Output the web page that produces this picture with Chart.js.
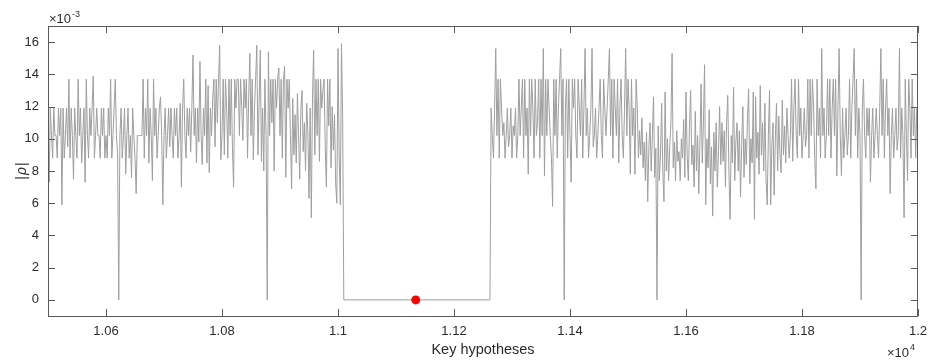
<!DOCTYPE html>
<html lang="en">
<head>
  <meta charset="UTF-8">
  <title>|rho| over key hypotheses</title>
  <script src="https://cdn.jsdelivr.net/npm/chart.js"></script>
  <style>
    html, body { margin: 0; padding: 0; background: #fff; }
    #wrap { width: 928px; height: 361px; }
  </style>
</head>
<body>
  <div id="wrap">
    <canvas id="rhoChart" width="928" height="361"></canvas>
  </div>

  <script>
    // |rho| values in units of 1e-3, one value every KEY_STEP keys starting at the segment key
    const KEY_STEP = 2;

    const rho10500 = [11.9, 7.3, 11.9, 10.2, 8.8, 11.9, 10.2, 10.2, 8.8, 11.9,
                      10.2, 11.9, 5.9, 11.9, 8.8, 10.2, 11.9, 9.5, 13.7, 8.8,
                      11.9, 10.2, 7.5, 11.9, 10.2, 8.8, 13.7, 10.2, 11.9, 8.5,
                      10.2, 11.9, 7.3, 13.7, 10.2, 8.8, 11.9, 10.2, 11.9, 13.9,
                      8.8, 10.2, 11.9, 10.2, 10.2, 8.8, 11.9, 10.2, 11.9, 8.8];

    const rho10600 = [10.2, 8.8, 11.9, 10.2, 13.7, 8.8, 10.2, 11.9, 13.7, 10.2,
                      9.0, 0, 10.2, 11.9, 8.8, 10.2, 11.9, 7.8, 10.2, 11.9,
                      8.8, 10.2, 7.6, 11.9, 10.2, 8.8, 6.6, 10.2, 10.2, 10.2,
                      10.2, 10.2, 13.7, 8.8, 11.9, 10.2, 13.7, 8.5, 11.9, 10.2,
                      7.4, 13.7, 10.2, 11.9, 8.8, 10.2, 11.9, 12.6, 10.2, 5.9];

    const rho10700 = [10.2, 11.9, 8.8, 10.2, 11.9, 9.5, 11.9, 10.2, 8.8, 11.9,
                      10.2, 11.9, 8.8, 10.2, 12.2, 7.0, 11.9, 13.7, 10.2, 8.8,
                      11.9, 10.2, 11.9, 9.2, 11.9, 15.2, 10.2, 11.9, 8.5, 11.9,
                      9.8, 14.8, 10.2, 8.4, 11.9, 10.2, 13.7, 8.5, 13.3, 7.9,
                      11.9, 10.2, 12.5, 13.7, 9.5, 13.7, 11.0, 13.7, 15.8, 8.7];

    const rho10800 = [10.2, 13.7, 9.0, 13.7, 11.9, 8.8, 13.7, 10.2, 13.7, 9.4,
                      7.0, 13.7, 11.9, 13.7, 13.7, 10.2, 13.7, 12.0, 9.9, 13.7,
                      11.9, 13.7, 8.8, 12.5, 15.3, 10.2, 13.7, 8.7, 11.9, 13.7,
                      15.8, 9.0, 12.2, 15.5, 8.6, 11.9, 8.0, 13.7, 10.2, 0,
                      15.4, 10.2, 13.7, 11.0, 13.7, 8.0, 13.7, 11.9, 13.7, 14.4];

    const rho10900 = [10.2, 13.7, 8.8, 13.7, 14.5, 7.6, 13.7, 11.9, 13.7, 10.2,
                      6.9, 12.5, 9.0, 11.5, 8.5, 12.8, 10.2, 7.5, 11.9, 13.0,
                      9.2, 11.0, 8.0, 12.2, 10.5, 6.3, 11.9, 5.1, 12.5, 15.5,
                      9.0, 13.7, 10.2, 13.7, 8.6, 13.7, 11.9, 13.0, 13.7, 9.5,
                      7.0, 13.7, 10.8, 13.7, 8.2, 12.0, 9.3, 11.5, 7.2, 6.0,
                      15.6, 9.0, 5.9, 15.9, 11.5];

    // flat stretch at zero between the two blocks
    const gapKeys = [11010, 11262];
    const gapRho = [0, 0];

    const rho11264 = [11.9, 10.2, 8.8, 11.9, 15.6, 10.2, 13.7, 8.8, 13.7, 11.9,
                      10.2, 11.0, 8.8, 10.2, 11.9, 9.5, 10.2, 11.9, 8.8, 10.8,
                      10.2, 11.9, 8.8, 10.2, 13.7, 10.2, 11.9, 13.7, 8.8, 13.7,
                      10.2, 11.9, 7.8, 13.7, 10.2, 13.7, 11.9, 8.8, 13.7, 10.2,
                      11.0, 13.7, 8.8, 13.7, 10.2, 15.6, 7.7, 13.7, 10.2, 13.7];

    const rho11364 = [11.9, 10.2, 8.8, 5.8, 13.7, 10.2, 13.7, 8.8, 11.9, 13.7,
                      15.6, 10.2, 13.7, 0, 11.9, 13.7, 8.8, 13.7, 10.2, 7.3,
                      13.7, 11.9, 13.7, 10.2, 8.8, 13.7, 11.9, 10.2, 13.7, 8.8,
                      11.9, 15.6, 10.2, 11.9, 8.8, 10.2, 11.9, 15.6, 9.5, 10.2,
                      11.9, 8.8, 10.2, 11.9, 13.7, 10.2, 8.8, 13.7, 11.9, 10.2];

    const rho11464 = [11.9, 13.7, 15.6, 10.2, 13.7, 8.8, 13.7, 11.9, 10.2, 13.7,
                      8.5, 11.9, 13.7, 10.2, 8.8, 11.9, 15.6, 10.2, 13.7, 11.9,
                      7.8, 13.7, 10.2, 11.9, 7.8, 13.7, 11.9, 8.8, 10.5, 9.0,
                      11.3, 8.2, 9.8, 7.4, 10.4, 6.1, 9.5, 11.0, 8.0, 10.2,
                      12.6, 7.6, 9.4, 0, 10.8, 7.4, 9.0, 12.2, 8.0, 6.1];

    const rho11564 = [12.9, 8.0, 10.0, 7.4, 9.5, 11.0, 15.3, 8.2, 9.8, 7.4,
                      10.5, 8.6, 9.2, 7.4, 10.0, 8.8, 11.2, 7.6, 12.9, 9.0,
                      7.4, 10.8, 13.0, 8.4, 9.6, 7.0, 11.7, 8.0, 10.2, 6.6,
                      9.8, 13.4, 8.5, 11.0, 14.6, 5.9, 10.0, 8.2, 11.8, 7.2,
                      9.5, 5.2, 10.4, 8.0, 11.0, 7.0, 9.2, 12.0, 8.4, 11.0];

    const rho11664 = [8.6, 10.5, 7.0, 11.0, 12.7, 8.0, 5.0, 10.2, 8.5, 13.2,
                      7.4, 9.8, 11.0, 8.0, 10.5, 6.4, 9.6, 12.0, 7.6, 10.0,
                      8.4, 11.2, 13.1, 7.2, 10.0, 8.5, 12.9, 5.0, 12.6, 8.8,
                      10.4, 7.8, 13.3, 9.0, 11.0, 8.0, 12.2, 7.5, 5.9, 10.2,
                      13.0, 5.9, 9.5, 11.0, 6.5, 10.0, 12.2, 8.0, 11.4, 9.0];

    const rho11764 = [7.9, 12.4, 9.0, 10.8, 8.5, 11.9, 10.2, 8.8, 10.2, 13.7,
                      8.6, 11.9, 13.7, 10.2, 8.8, 13.7, 10.2, 11.9, 8.8, 10.2,
                      11.9, 9.5, 10.2, 13.7, 8.8, 13.7, 10.2, 13.7, 11.9, 8.8,
                      6.9, 13.7, 10.2, 11.9, 8.8, 15.6, 10.2, 11.9, 8.8, 10.2,
                      13.7, 10.2, 13.7, 8.8, 11.9, 13.7, 10.2, 13.7, 7.7, 11.9];

    const rho11864 = [15.6, 10.2, 7.7, 11.9, 8.8, 10.2, 11.9, 9.0, 10.2, 13.7,
                      8.8, 11.9, 13.7, 15.6, 10.2, 13.7, 8.8, 11.9, 10.2, 0,
                      11.9, 13.7, 10.2, 8.8, 11.9, 10.2, 11.9, 7.3, 10.2, 11.9,
                      8.8, 10.2, 11.9, 10.2, 8.8, 11.9, 15.6, 10.2, 13.7, 8.8,
                      11.9, 13.7, 10.2, 11.9, 6.6, 10.2, 11.9, 8.8, 10.2, 11.9,
                      9.3, 10.2, 15.6, 8.8, 11.9, 10.2, 5.1, 13.7, 10.2, 7.4,
                      13.7, 11.9, 8.8, 13.7, 10.2, 11.9, 8.8, 11.9, 10.0];

    // the marked (correct) key
    const bestKey = [11134];
    const bestRho = [0];

    // axis ticks
    const xTickKeys = [10600, 10800, 11000, 11200, 11400, 11600, 11800, 12000];
    const xTickLabels = ['1.06', '1.08', '1.1', '1.12', '1.14', '1.16', '1.18', '1.2'];
    const yTicks = [0, 2, 4, 6, 8, 10, 12, 14, 16];

    // build {x, y} points from the segments
    function segmentPoints(startKey, values) {
      return values.map((v, i) => ({ x: startKey + i * KEY_STEP, y: v }));
    }

    const points = [].concat(
      segmentPoints(10500, rho10500),
      segmentPoints(10600, rho10600),
      segmentPoints(10700, rho10700),
      segmentPoints(10800, rho10800),
      segmentPoints(10900, rho10900),
      gapKeys.map((k, i) => ({ x: k, y: gapRho[i] })),
      segmentPoints(11264, rho11264),
      segmentPoints(11364, rho11364),
      segmentPoints(11464, rho11464),
      segmentPoints(11564, rho11564),
      segmentPoints(11664, rho11664),
      segmentPoints(11764, rho11764),
      segmentPoints(11864, rho11864)
    );

    const FONT = '"Liberation Sans", Arial, Helvetica, sans-serif';
    const AXIS_COLOR = '#5a5a5a';
    const TEXT_COLOR = '#2b2b2b';

    // MATLAB style box, inward ticks, exponent labels and y label
    const axesBox = {
      id: 'axesBox',
      afterDraw(chart) {
        const { ctx, chartArea: a, scales } = chart;
        const x = scales.x, y = scales.y;
        const tl = 7;
        ctx.save();
        ctx.strokeStyle = AXIS_COLOR;
        ctx.lineWidth = 1;
        ctx.strokeRect(a.left + 0.5, a.top + 0.5, a.right - a.left - 1, a.bottom - a.top);

        ctx.beginPath();
        xTickKeys.forEach(k => {
          const px = Math.round(x.getPixelForValue(k)) + 0.5;
          ctx.moveTo(px, a.bottom); ctx.lineTo(px, a.bottom - tl);
          ctx.moveTo(px, a.top); ctx.lineTo(px, a.top + tl);
        });
        yTicks.forEach(v => {
          const py = Math.round(y.getPixelForValue(v)) + 0.5;
          ctx.moveTo(a.left, py); ctx.lineTo(a.left + tl, py);
          ctx.moveTo(a.right, py); ctx.lineTo(a.right - tl, py);
        });
        ctx.stroke();

        ctx.fillStyle = TEXT_COLOR;
        ctx.textBaseline = 'alphabetic';
        ctx.textAlign = 'left';

        // x10^-3 above the y axis
        ctx.font = '13px ' + FONT;
        ctx.fillText('\u00d710', a.left + 1, a.top - 3);
        let w = ctx.measureText('\u00d710').width;
        ctx.font = '9px ' + FONT;
        ctx.fillText('-3', a.left + 1 + w + 1, a.top - 9);

        // x10^4 below the x axis end
        ctx.font = '13px ' + FONT;
        ctx.fillText('\u00d710', a.right - 31, 357);
        w = ctx.measureText('\u00d710').width;
        ctx.font = '9px ' + FONT;
        ctx.fillText('4', a.right - 31 + w + 1, 350);

        // |rho| label, rotated
        ctx.translate(21, (a.top + a.bottom) / 2);
        ctx.rotate(-Math.PI / 2);
        ctx.font = '14px ' + FONT;
        const bar = ctx.measureText('|').width;
        ctx.font = 'italic 14px ' + FONT;
        const rw = ctx.measureText('\u03c1').width;
        const total = bar * 2 + rw + 2;
        let cx = -total / 2;
        ctx.font = '14px ' + FONT;
        ctx.fillText('|', cx, 5);
        ctx.font = 'italic 14px ' + FONT;
        ctx.fillText('\u03c1', cx + bar + 1, 5);
        ctx.font = '14px ' + FONT;
        ctx.fillText('|', cx + bar + rw + 2, 5);
        ctx.restore();
      }
    };

    new Chart(document.getElementById('rhoChart').getContext('2d'), {
      type: 'line',
      data: {
        datasets: [
          {
            label: 'best key',
            data: bestKey.map((k, i) => ({ x: k, y: bestRho[i] })),
            showLine: false,
            pointRadius: 4.5,
            pointBackgroundColor: '#ff0000',
            pointBorderWidth: 0,
            order: 0
          },
          {
            label: '|rho|',
            data: points,
            borderColor: 'rgb(158,158,158)',
            borderWidth: 1,
            pointRadius: 0,
            tension: 0,
            fill: false,
            order: 1
          }
        ]
      },
      options: {
        responsive: false,
        devicePixelRatio: 1,
        animation: false,
        layout: { padding: { top: 26, right: 10, left: 0, bottom: 0 } },
        plugins: { legend: { display: false }, tooltip: { enabled: false } },
        scales: {
          x: {
            type: 'linear',
            min: 10500,
            max: 12000,
            afterBuildTicks: s => { s.ticks = xTickKeys.map(v => ({ value: v })); },
            afterFit: s => { s.height = 45; s.paddingLeft = 0; s.paddingRight = 0; },
            grid: { display: false, drawTicks: false, tickLength: 0 },
            border: { display: false },
            ticks: {
              padding: 8,
              maxRotation: 0,
              autoSkip: false,
              color: TEXT_COLOR,
              font: { family: FONT, size: 13 },
              callback: (v, i) => xTickLabels[i]
            },
            title: {
              display: true,
              text: 'Key hypotheses',
              color: TEXT_COLOR,
              font: { family: FONT, size: 14.5 },
              padding: { top: 0, bottom: 2 }
            }
          },
          y: {
            min: -1,
            max: 17,
            afterBuildTicks: s => { s.ticks = yTicks.map(v => ({ value: v })); },
            afterFit: s => { s.width = 48; s.paddingTop = 0; s.paddingBottom = 0; },
            grid: { display: false, drawTicks: false, tickLength: 0 },
            border: { display: false },
            ticks: {
              padding: 9,
              color: TEXT_COLOR,
              font: { family: FONT, size: 13 },
              callback: v => String(v)
            }
          }
        }
      },
      plugins: [axesBox]
    });
  </script>
</body>
</html>
